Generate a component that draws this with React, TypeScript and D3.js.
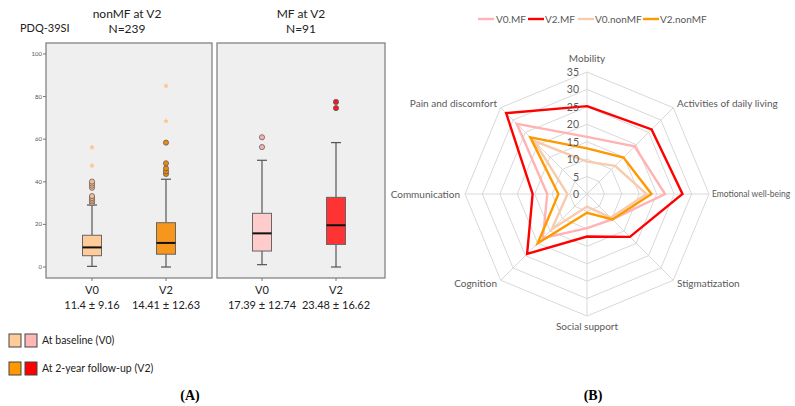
import React from "react";
import * as d3 from "d3";

// ---------- Panel A data ----------
const groups = ["nonMF at V2", "MF at V2"];
const groupN = ["N=239", "N=91"];
const visits = ["V0", "V2"];
const boxLabels = ["11.4 ± 9.16", "14.41 ± 12.63", "17.39 ± 12.74", "23.48 ± 16.62"];
const boxQ1 = [5.3, 6.0, 7.5, 10.6];
const boxMedian = [9.2, 11.3, 15.8, 19.6];
const boxQ3 = [14.9, 20.8, 25.2, 32.7];
const whiskerLow = [0.3, 0, 1.1, 0];
const whiskerHigh = [29.1, 41.2, 50.1, 58.4];
const outlierCircles = [
  [30, 30.8, 31.6, 32.4, 33.3, 37.2, 38.2, 39.2, 40.1],
  [43.7, 44.9, 46.3, 48.7, 58.4],
  [56.3, 60.9],
  [74.6, 77.5],
];
const outlierStars = [[47.6, 56.2], [68.5, 85], [], []];
const yTicks = [0, 20, 40, 60, 80, 100];
const boxFills = ["#FFCC99", "#F7961C", "#FFCCCC", "#FF3333"];
const outlierFills = ["#F9B98A", "#E98A10", "#F5AFAF", "#EE1C24"];
const starFill = "#F9C48E";
const legendA = ["At baseline (V0)", "At 2-year follow-up (V2)"];
const legendAColors = [["#FFCC99", "#FFB6B6"], ["#FF9900", "#FF0000"]];

// ---------- Panel B data ----------
const radarAxes = [
  "Mobility",
  "Activities of daily living",
  "Emotional well-being",
  "Stigmatization",
  "Social support",
  "Cognition",
  "Communication",
  "Pain and discomfort",
];
const radarSeries = ["V0.MF", "V2.MF", "V0.nonMF", "V2.nonMF"];
const radarColors = ["#FFB3B3", "#FF0000", "#F8CBAD", "#FF9900"];
const v0MF = [16.4, 19.3, 22.4, 10.3, 9.8, 17.9, 11.4, 28.5];
const v2MF = [25.2, 26.2, 27.4, 17.4, 12.2, 24.3, 15.6, 32.8];
const v0nonMF = [9.3, 11.4, 17.1, 9.6, 3.6, 14.3, 5.6, 21.6];
const v2nonMF = [13.1, 14.8, 18.5, 10.3, 5.4, 20.0, 8.2, 23.0];
const radarValues = [v0MF, v2MF, v0nonMF, v2nonMF];
const radarTicks = [0, 5, 10, 15, 20, 25, 30, 35];

const FONT = "Lato, 'Open Sans', sans-serif";

function Star({ cx, cy, r, fill }: { cx: number; cy: number; r: number; fill: string }) {
  const pts: string[] = [];
  for (let i = 0; i < 10; i++) {
    const a = (Math.PI / 5) * i - Math.PI / 2;
    const rr = i % 2 === 0 ? r : r * 0.45;
    pts.push(`${cx + rr * Math.cos(a)},${cy + rr * Math.sin(a)}`);
  }
  return <polygon points={pts.join(" ")} fill={fill} />;
}

export default function App() {
  const y = d3.scaleLinear().domain([0, 100]).range([267, 54]);
  const panels = [
    { x0: 46, x1: 212 },
    { x0: 217, x1: 385 },
  ];
  const top = 43;
  const bottom = 278;
  const boxCenters = [92, 166, 262, 336];
  const hw = 9.5;

  // radar
  const cx = 587;
  const cy = 194;
  const r = d3.scaleLinear().domain([0, 35]).range([0, 122]);
  const angle = d3.scaleLinear().domain([0, radarAxes.length]).range([0, 2 * Math.PI]);
  const pt = (i: number, v: number) => {
    const a = angle(i);
    return [cx + r(v) * Math.sin(a), cy - r(v) * Math.cos(a)];
  };
  const radarLine = d3
    .line<number>()
    .x((v, i) => pt(i, v)[0])
    .y((v, i) => pt(i, v)[1])
    .curve(d3.curveLinearClosed);

  const labelPos: { x: number; y: number; anchor: string; fs?: number }[] = [
    { x: 587, y: 62, anchor: "middle" },
    { x: 677, y: 107, anchor: "start" },
    { x: 712, y: 197, anchor: "start", fs: 8.5 },
    { x: 677, y: 287, anchor: "start" },
    { x: 587, y: 330, anchor: "middle" },
    { x: 497, y: 287, anchor: "end" },
    { x: 460, y: 198, anchor: "end" },
    { x: 497, y: 107, anchor: "end" },
  ];

  const legendB = [
    { lx: 478, tx: 496 },
    { lx: 528, tx: 545 },
    { lx: 578, tx: 595 },
    { lx: 643, tx: 660 },
  ];

  return (
    <svg
      width={795}
      height={406}
      style={{ position: "absolute", left: 0, top: 0, background: "#fff" }}
      fontFamily={FONT}
    >
      {/* ---------- Panel A ---------- */}
      <text x={20} y={32} fontSize={11} fill="#222">PDQ-39SI</text>
      {groups.map((g, gi) => {
        const cxm = (panels[gi].x0 + panels[gi].x1) / 2 + (gi === 0 ? -2 : 0);
        return (
          <g key={g}>
            <text x={cxm} y={18} fontSize={12} textAnchor="middle" fill="#222">{g}</text>
            <text x={cxm} y={33} fontSize={12} textAnchor="middle" fill="#222">{groupN[gi]}</text>
          </g>
        );
      })}
      {panels.map((p, i) => (
        <rect key={i} x={p.x0} y={top} width={p.x1 - p.x0} height={bottom - top} fill="#EFEFEF" stroke="#7a7a7a" strokeWidth={1.2} />
      ))}
      {yTicks.map((t) => (
        <g key={t}>
          <line x1={43} x2={46} y1={y(t)} y2={y(t)} stroke="#777" />
          <text x={42} y={y(t) + 2} fontSize={6} textAnchor="end" fill="#555">{t}</text>
        </g>
      ))}
      {boxCenters.map((bx, i) => (
        <g key={i}>
          <line x1={bx} x2={bx} y1={bottom} y2={bottom + 3} stroke="#777" />
          <line x1={bx} x2={bx} y1={y(whiskerLow[i])} y2={y(boxQ1[i])} stroke="#555" strokeWidth={1.2} />
          <line x1={bx} x2={bx} y1={y(boxQ3[i])} y2={y(whiskerHigh[i])} stroke="#555" strokeWidth={1.2} />
          <line x1={bx - 5} x2={bx + 5} y1={y(whiskerLow[i])} y2={y(whiskerLow[i])} stroke="#555" strokeWidth={1.2} />
          <line x1={bx - 5} x2={bx + 5} y1={y(whiskerHigh[i])} y2={y(whiskerHigh[i])} stroke="#555" strokeWidth={1.2} />
          <rect x={bx - hw} y={y(boxQ3[i])} width={hw * 2} height={y(boxQ1[i]) - y(boxQ3[i])} fill={boxFills[i]} stroke="#666" strokeWidth={1} />
          <line x1={bx - hw} x2={bx + hw} y1={y(boxMedian[i])} y2={y(boxMedian[i])} stroke="#111" strokeWidth={2} />
          {outlierCircles[i].map((o, k) => (
            <circle key={k} cx={bx} cy={y(o)} r={2.6} fill={outlierFills[i]} stroke="#555" strokeWidth={0.7} />
          ))}
          {outlierStars[i].map((o, k) => (
            <Star key={k} cx={bx} cy={y(o)} r={3} fill={starFill} />
          ))}
          <text x={bx} y={294} fontSize={11} textAnchor="middle" fill="#222">{visits[i % 2]}</text>
          <text x={bx} y={309} fontSize={11} textAnchor="middle" fill="#222">{boxLabels[i]}</text>
        </g>
      ))}
      {legendA.map((l, i) => (
        <g key={l}>
          <rect x={9} y={334 + i * 28} width={12} height={13} fill={legendAColors[i][0]} stroke="#444" strokeWidth={1} />
          <rect x={25} y={334 + i * 28} width={12} height={13} fill={legendAColors[i][1]} stroke="#444" strokeWidth={1} />
          <text x={42} y={344 + i * 28} fontSize={10.5} fill="#222">{l}</text>
        </g>
      ))}
      <text x={190} y={400} fontSize={14} fontWeight="bold" fontFamily="'Liberation Serif', serif" textAnchor="middle">(A)</text>
      <text x={593} y={400} fontSize={14} fontWeight="bold" fontFamily="'Liberation Serif', serif" textAnchor="middle">(B)</text>

      {/* ---------- Panel B ---------- */}
      {radarTicks.slice(1).map((t) => (
        <polygon
          key={t}
          points={radarAxes.map((_, i) => pt(i, t).join(",")).join(" ")}
          fill="none"
          stroke="#D9D9D9"
          strokeWidth={1}
        />
      ))}
      {radarAxes.map((a, i) => {
        const [x2, y2] = pt(i, 35);
        return <line key={a} x1={cx} y1={cy} x2={x2} y2={y2} stroke="#D9D9D9" strokeWidth={1} />;
      })}
      {radarValues.map((vals, si) => (
        <path key={si} d={radarLine(vals) || ""} fill="none" stroke={radarColors[si]} strokeWidth={2.4} strokeLinejoin="miter" />
      ))}
      {radarTicks.map((t) => (
        <text key={t} x={cx - 8} y={cy - r(t) + 4} fontSize={10.5} textAnchor="end" fill="#595959">{t}</text>
      ))}
      {radarAxes.map((a, i) => (
        <text
          key={a}
          x={labelPos[i].x}
          y={labelPos[i].y}
          fontSize={labelPos[i].fs ?? 10}
          textAnchor={labelPos[i].anchor as any}
          fill="#595959"
        >
          {a}
        </text>
      ))}
      {radarSeries.map((s, i) => (
        <g key={s}>
          <line x1={legendB[i].lx} x2={legendB[i].lx + 16} y1={19} y2={19} stroke={radarColors[i]} strokeWidth={2.4} />
          <text x={legendB[i].tx} y={23} fontSize={10} fill="#595959">{s}</text>
        </g>
      ))}
    </svg>
  );
}
